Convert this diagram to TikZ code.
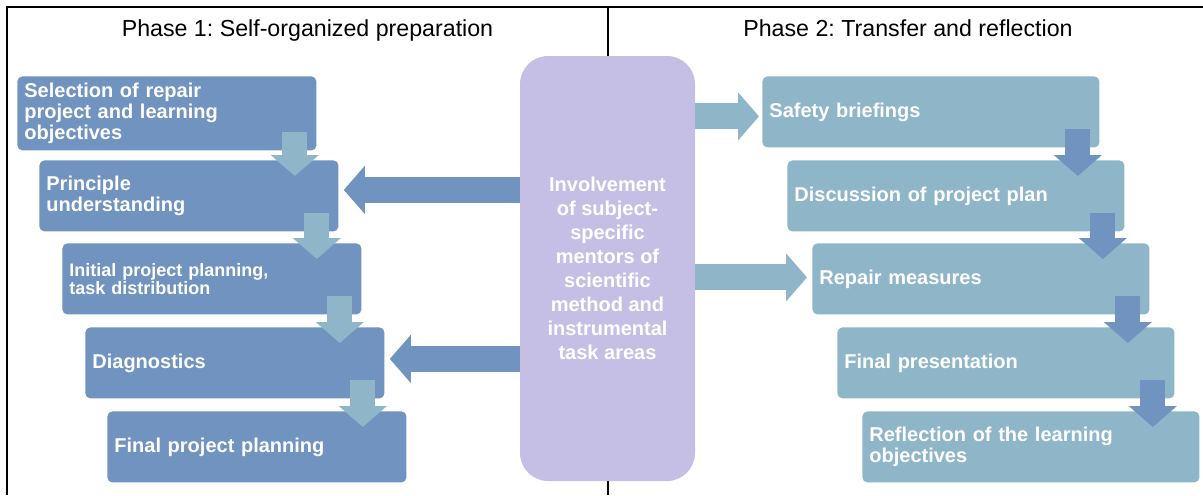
\documentclass[tikz,border=0pt]{standalone}
\usepackage{fontspec}
\setmainfont{Liberation Sans}
\usepackage{tikz}
\usetikzlibrary{arrows.meta,calc}
\frenchspacing

\definecolor{phaseoneblue}{RGB}{112,147,191}
\definecolor{phasetwoblue}{RGB}{142,182,200}
\definecolor{mentorlilac}{RGB}{198,191,229}

\tikzset{
    stepbox/.style={rectangle, rounded corners=2.5pt, text=white, anchor=north west,
        font=\bfseries\fontsize{10}{10.5}\selectfont, inner xsep=3.5pt, align=left,
        minimum height=35.5pt},
    leftbox/.style={stepbox, fill=phaseoneblue, text width=142.5pt},
    rightbox/.style={stepbox, fill=phasetwoblue, text width=161.5pt},
    phasetitle/.style={font=\fontsize{11.6}{14}\selectfont, anchor=base, inner sep=0pt},
    fatarrow/.style={line width=13pt, -{Triangle[width=23.5pt, length=10.5pt]}},
    downarrow/.style={line width=12.5pt, -{Triangle[width=23.5pt, length=10.5pt]}}
}

\begin{document}
\begin{tikzpicture}[x=0.5pt, y=-0.5pt]
        \useasboundingbox (0, 0) rectangle (1203, 495);

        % frame and phase titles
        \draw[line width=1pt] (7, 495) -- (7, 7) -- (1203, 7);
        \draw[line width=1pt] (608, 7) -- (608, 495);
        \node[phasetitle] (phaseone) at (307.5, 36) {Phase 1: Self-organized preparation};
        \node[phasetitle] (phasetwo) at (908, 36) {Phase 2: Transfer and reflection};

        % Phase 1 steps
        \node[leftbox] (select) at (17, 76) {Selection of repair\\project and learning\\objectives};
        \node[leftbox] (principle) at (39, 160) {Principle\\understanding};
        \node[leftbox, font=\bfseries\fontsize{9}{9}\selectfont] (initial) at (62, 243) {Initial project planning,\\task distribution};
        \node[leftbox] (diagnose) at (85, 327) {Diagnostics};
        \node[leftbox] (finalplan) at (107, 411) {Final project planning};

        % Phase 2 steps
        \node[rightbox] (safety) at (762, 76) {Safety briefings};
        \node[rightbox] (discuss) at (787, 160) {Discussion of project plan};
        \node[rightbox] (repair) at (812, 243) {Repair measures};
        \node[rightbox] (present) at (837, 327) {Final presentation};
        \node[rightbox] (reflect) at (862, 411) {Reflection of the learning\\objectives};

        % mentors in the middle
        \node[rectangle, rounded corners=14pt, fill=mentorlilac, text=white, align=center,
            minimum width=87.5pt, minimum height=212.5pt, font=\bfseries\fontsize{10}{12}\selectfont]
            (mentor) at (607.5, 268.5) {Involvement\\of subject-\\specific\\mentors of\\scientific\\method and\\instrumental\\task areas};

        % down arrows, phase 1
        \draw[downarrow, phasetwoblue] ($(select.south east)+(-11pt,9.5pt)$) -- ($(select.south east |- principle.north)+(-11pt,-8pt)$);
        \draw[downarrow, phasetwoblue] ($(principle.south east)+(-11pt,9.5pt)$) -- ($(principle.south east |- initial.north)+(-11pt,-8pt)$);
        \draw[downarrow, phasetwoblue] ($(initial.south east)+(-11pt,9.5pt)$) -- ($(initial.south east |- diagnose.north)+(-11pt,-8pt)$);
        \draw[downarrow, phasetwoblue] ($(diagnose.south east)+(-11pt,9.5pt)$) -- ($(diagnose.south east |- finalplan.north)+(-11pt,-8pt)$);

        % down arrows, phase 2
        \draw[downarrow, phaseoneblue] ($(safety.south east)+(-11pt,9.5pt)$) -- ($(safety.south east |- discuss.north)+(-11pt,-8pt)$);
        \draw[downarrow, phaseoneblue] ($(discuss.south east)+(-11pt,9.5pt)$) -- ($(discuss.south east |- repair.north)+(-11pt,-8pt)$);
        \draw[downarrow, phaseoneblue] ($(repair.south east)+(-11pt,9.5pt)$) -- ($(repair.south east |- present.north)+(-11pt,-8pt)$);
        \draw[downarrow, phaseoneblue] ($(present.south east)+(-11pt,9.5pt)$) -- ($(present.south east |- reflect.north)+(-11pt,-8pt)$);

        % mentor arrows
        \draw[fatarrow, phaseoneblue] ($(mentor.west |- principle.east)+(0,3pt)$) -- ($(principle.east)+(2.5pt,3pt)$);
        \draw[fatarrow, phaseoneblue] ($(mentor.west |- diagnose.east)+(0,2pt)$) -- ($(diagnose.east)+(2.5pt,2pt)$);
        \draw[fatarrow, phasetwoblue] ($(mentor.east |- safety.west)+(0,-2.25pt)$) -- ($(safety.west)+(-1.5pt,-2.25pt)$);
        \draw[fatarrow, phasetwoblue] ($(mentor.east |- repair.west)+(0,0.75pt)$) -- ($(repair.west)+(-2.5pt,0.75pt)$);
    \end{tikzpicture}
\end{document}
